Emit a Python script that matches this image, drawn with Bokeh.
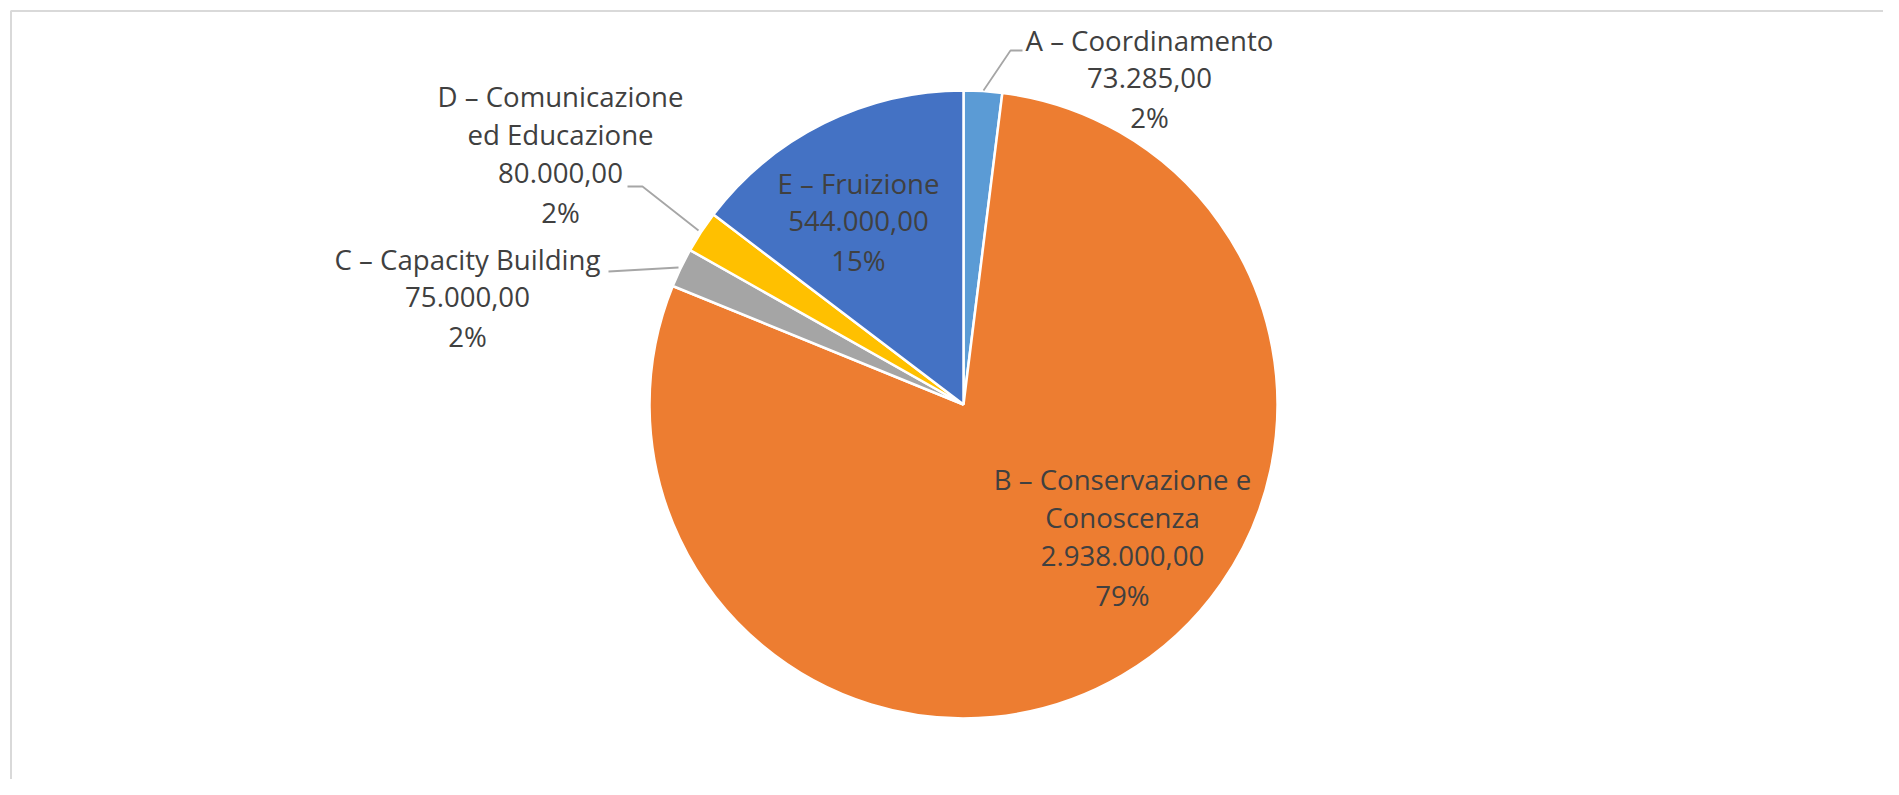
import math
from bokeh.plotting import figure
from bokeh.models import Range1d
from bokeh.core.properties import value
from bokeh.embed import file_html
from bokeh.resources import INLINE

# ---- data ----
categories = ["A – Coordinamento", "B – Conservazione e\nConoscenza", "C – Capacity Building",
              "D – Comunicazione\ned Educazione", "E – Fruizione"]
amounts = [73285.00, 2938000.00, 75000.00, 80000.00, 544000.00]
colors = ["#5B9BD5", "#ED7D31", "#A5A5A5", "#FFC000", "#4472C4"]

W, H = 1883, 779


def fx(x):
    return x


def fy(y):
    return H - y


def it_num(v):
    s = f"{v:,.2f}"
    return s.replace(",", "X").replace(".", ",").replace("X", ".")


p = figure(width=W, height=H, output_backend="svg", toolbar_location=None,
           x_range=Range1d(0, W), y_range=Range1d(0, H), min_border=0)
p.axis.visible = False
p.grid.visible = False
p.outline_line_color = None
p.background_fill_color = "white"
p.border_fill_color = "white"

# chart area border
p.line([fx(10.5), fx(10.5), fx(2100)], [fy(2000), fy(10.5), fy(10.5)],
       line_color="#d9d9d9", line_width=2)

# pie
cx, cy, R = 963, 404, 314
total = sum(amounts)
cum = 0.0
starts, ends = [], []
for a in amounts:
    f0 = cum / total
    cum += a
    f1 = cum / total
    starts.append(math.pi / 2 - f1 * 2 * math.pi)
    ends.append(math.pi / 2 - f0 * 2 * math.pi)

p.wedge(x=[fx(cx)] * len(amounts), y=[fy(cy)] * len(amounts), radius=R, radius_units="screen",
        start_angle=starts, end_angle=ends, fill_color=colors,
        line_color="white", line_width=2.5)

# labels
label_pos = [(1149, 39), (1122, 478), (467, 258), (560, 95), (858, 182)]
LS = 38.8
tx, ty, tt = [], [], []
for name, a, (lx, ly) in zip(categories, amounts, label_pos):
    lines = name.split("\n") + [it_num(a), f"{round(a / total * 100)}%"]
    for i, ln in enumerate(lines):
        tx.append(fx(lx))
        ty.append(fy(ly + i * LS))
        tt.append(ln)

p.text(x=tx, y=ty, text=tt, text_align="center", text_baseline="middle",
       text_font=value("Open Sans"), text_font_size="27.6px", text_color="#404040")

# leader lines
leaders = [
    [(1022, 50), (1010, 50), (983, 90)],
    [(627, 186), (642, 186), (698, 230)],
    [(608, 271), (678, 267)],
]
p.multi_line(xs=[[fx(a) for a, b in L] for L in leaders],
             ys=[[fy(b) for a, b in L] for L in leaders],
             line_color="#a6a6a6", line_width=1.8)

open("out.html", "w").write(file_html(p, INLINE))
